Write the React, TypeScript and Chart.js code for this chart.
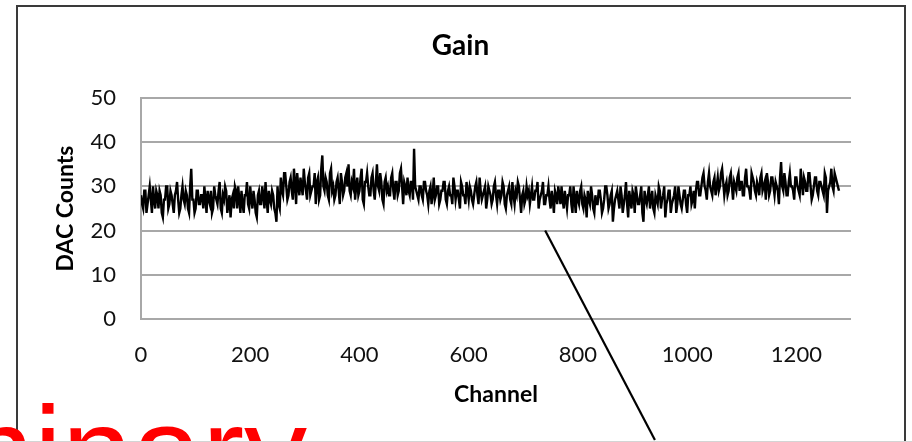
import React, { useEffect, useRef } from "react";
import { Chart, registerables } from "chart.js";

Chart.register(...registerables);

const chartTitle = "Gain";
const yAxisTitle = "DAC Counts";
const xAxisTitle = "Channel";
const watermarkText = "Preliminary";

const xTickValues = [0, 200, 400, 600, 800, 1000, 1200];
const yTickValues = [0, 10, 20, 30, 40, 50];
const CHANNEL_STEP = 2;

// readings at channels 0, 4, 8, ... 252
const gainSeg1 = [
  28, 25, 29, 26, 30, 24, 27, 29, 25, 28,
  23, 27, 30, 26, 28, 24, 29, 27, 25, 30,
  26, 28, 24, 34, 27, 25, 29, 26, 28, 30,
  24, 27, 29, 25, 28, 26, 31, 24, 27, 29,
  26, 23, 28, 30, 25, 27, 29, 24, 28, 26,
  30, 25, 27, 23, 29, 26, 28, 31, 24, 27,
  29, 25, 22, 26,
];
// readings at channels 2, 6, 10, ... 254
const gainSeg1Mid = [
  26, 29, 24, 28, 27, 30, 25, 28, 29, 24,
  27, 30, 25, 29, 26, 28, 31, 24, 28, 27,
  29, 25, 30, 27, 24, 29, 26, 28, 25, 27,
  29, 26, 24, 30, 27, 29, 25, 28, 30, 24,
  28, 27, 25, 29, 30, 24, 26, 28, 31, 25,
  27, 29, 24, 28, 26, 30, 25, 27, 29, 26,
  28, 24, 30, 25,
];
// channels 256 ... 508
const gainSeg2 = [
  32, 28, 33, 27, 31, 29, 34, 26, 30, 32,
  28, 31, 27, 33, 29, 30, 26, 32, 28, 37,
  29, 31, 27, 34, 30, 28, 32, 26, 31, 29,
  33, 35, 28, 30, 27, 32, 29, 34, 26, 31,
  30, 28, 33, 27, 35, 29, 31, 26, 32, 30,
  28, 33, 27, 31, 29, 34, 26, 30, 32, 28,
  31, 38.5, 29, 27,
];
// channels 258 ... 510
const gainSeg2Mid = [
  29, 33, 30, 28, 32, 27, 31, 33, 28, 30,
  34, 29, 32, 28, 30, 33, 31, 27, 34, 30,
  32, 28, 33, 29, 27, 31, 29, 33, 28, 32,
  30, 29, 31, 34, 30, 28, 32, 27, 31, 33,
  28, 32, 29, 31, 30, 33, 27, 31, 29, 28,
  32, 29, 31, 28, 33, 30, 31, 28, 29, 31,
  27, 30, 28, 30,
];
// channels 512 ... 1012
const gainSeg3 = [
  30, 27, 31, 28, 29, 26, 32, 28, 30, 27,
  29, 31, 26, 30, 28, 32, 27, 29, 25, 30,
  28, 31, 27, 29, 26, 30, 28, 32, 27, 29,
  25, 30, 28, 27, 31, 26, 29, 28, 30, 25,
  29, 27, 31, 26, 28, 30, 24, 29, 27, 28,
  26, 30, 27, 29, 25, 28, 31, 26, 28, 27,
  29, 24, 28, 30, 26, 27, 29, 25, 28, 26,
  30, 24, 27, 29, 26, 28, 23, 27, 30, 25,
  28, 26, 29, 24, 27, 30, 25, 28, 22, 27,
  29, 25, 28, 26, 31, 23, 27, 29, 24, 28,
  26, 30, 22, 27, 28, 25, 29, 24, 27, 30,
  25, 28, 23, 27, 29, 26, 28, 24, 30, 26,
  27, 29, 24, 28, 26, 29,
];
// channels 514 ... 1014
const gainSeg3Mid = [
  28, 31, 29, 26, 30, 28, 27, 30, 26, 29,
  31, 27, 29, 28, 26, 30, 29, 27, 31, 28,
  26, 29, 30, 27, 28, 31, 26, 29, 28, 30,
  27, 29, 26, 30, 28, 29, 27, 31, 26, 28,
  30, 26, 28, 29, 31, 27, 28, 26, 30, 29,
  28, 27, 29, 31, 27, 29, 26, 28, 30, 25,
  27, 29, 26, 28, 30, 25, 27, 28, 30, 24,
  27, 29, 26, 30, 25, 27, 29, 26, 28, 24,
  26, 29, 27, 25, 30, 28, 26, 29, 25, 28,
  27, 30, 24, 28, 26, 29, 25, 28, 30, 26,
  28, 24, 29, 26, 30, 27, 25, 28, 26, 29,
  27, 30, 26, 29, 24, 27, 30, 26, 28, 25,
  29, 26, 28, 30, 27, 25,
];
// channels 1016 ... 1276
const gainSeg4 = [
  29, 31, 28, 32, 30, 27, 33, 29, 31, 28,
  32, 30, 34, 28, 31, 29, 33, 27, 30, 32,
  29, 31, 28, 34, 30, 27, 32, 29, 31, 28,
  33, 30, 27, 31, 29, 32, 28, 30, 26, 35.5,
  29, 31, 28, 33, 30, 27, 32, 29, 34, 28,
  31, 29, 33, 27, 30, 32, 28, 31, 29, 33,
  24, 30, 34, 29, 32, 30,
];
// channels 1018 ... 1278
const gainSeg4Mid = [
  31, 28, 30, 33, 29, 31, 30, 28, 32, 30,
  29, 33, 31, 30, 28, 32, 30, 31, 29, 33,
  31, 28, 32, 30, 29, 33, 31, 28, 30, 32,
  29, 31, 33, 28, 32, 30, 31, 29, 32, 30,
  33, 28, 31, 30, 29, 32, 30, 28, 31, 32,
  29, 33, 30, 28, 32, 29, 31, 30, 28, 32,
  29, 31, 30, 33, 31, 29,
];

const gainMain = [...gainSeg1, ...gainSeg2, ...gainSeg3, ...gainSeg4];
const gainMid = [...gainSeg1Mid, ...gainSeg2Mid, ...gainSeg3Mid, ...gainSeg4Mid];
const gainValues: number[] = [];
gainMain.forEach((v, i) => {
  gainValues.push(v, gainMid[i]);
});
const channels = gainValues.map((_, i) => i * CHANNEL_STEP);

// callout line, in data units (channel, DAC counts)
const calloutStart = { x: 740, y: 20 };
const calloutEnd = { x: 941, y: -27.4 };

const FONT = 'Lato, "Open Sans", "DejaVu Sans", sans-serif';

const decorPlugin = {
  id: "decor",
  beforeDraw(chart: any) {
    const ctx = chart.ctx;
    ctx.save();
    ctx.fillStyle = "#ffffff";
    ctx.fillRect(0, 0, chart.width, chart.height);
    ctx.strokeStyle = "#3a3a3a";
    ctx.lineWidth = 2;
    ctx.beginPath();
    ctx.moveTo(17, 442);
    ctx.lineTo(17, 6);
    ctx.lineTo(905, 6);
    ctx.lineTo(905, 442);
    ctx.stroke();
    ctx.restore();
  },
  afterDraw(chart: any) {
    const ctx = chart.ctx;
    const { x, y } = chart.scales;
    ctx.save();
    ctx.strokeStyle = "#000000";
    ctx.lineWidth = 2.2;
    ctx.beginPath();
    ctx.moveTo(x.getPixelForValue(calloutStart.x), y.getPixelForValue(calloutStart.y));
    ctx.lineTo(x.getPixelForValue(calloutEnd.x), y.getPixelForValue(calloutEnd.y));
    ctx.stroke();

    ctx.font = '126px "Liberation Sans", Arial, sans-serif';
    ctx.fillStyle = "#ff0000";
    ctx.textBaseline = "alphabetic";
    ctx.textAlign = "left";
    const prefixW = ctx.measureText("Prelim").width;
    ctx.fillText(watermarkText, 34 - prefixW, 495);

    ctx.strokeStyle = "#d4d4d4";
    ctx.lineWidth = 1;
    ctx.beginPath();
    ctx.moveTo(0, 441.5);
    ctx.lineTo(chart.width, 441.5);
    ctx.stroke();
    ctx.restore();
  },
};

export default function App() {
  const canvasRef = useRef<HTMLCanvasElement | null>(null);

  useEffect(() => {
    const canvas = canvasRef.current;
    if (!canvas) return;
    const gridColor = "#a8a8a8";
    const chart = new Chart(canvas, {
      type: "line",
      data: {
        datasets: [
          {
            label: chartTitle,
            data: gainValues.map((v, i) => ({ x: channels[i], y: v })),
            borderColor: "#000000",
            borderWidth: 2.4,
            pointRadius: 0,
            tension: 0,
            fill: false,
          },
        ],
      },
      options: {
        animation: false,
        responsive: false,
        devicePixelRatio: 1,
        layout: { padding: { left: 16, right: 7, top: 0, bottom: 0 } },
        plugins: {
          legend: { display: false },
          tooltip: { enabled: false },
          title: {
            display: true,
            text: chartTitle,
            color: "#000000",
            font: { family: FONT, size: 28, weight: "bold", lineHeight: 1.2 },
            padding: { top: 29.2, bottom: 35.2 },
          },
        },
        scales: {
          x: {
            type: "linear",
            position: "bottom",
            min: 0,
            max: 1300,
            grid: { display: false, drawTicks: false },
            border: { display: false },
            afterBuildTicks: (s: any) => {
              s.ticks = xTickValues.map((v) => ({ value: v }));
            },
            afterFit: (s: any) => {
              s.height = 123;
            },
            ticks: {
              color: "#111111",
              font: { family: FONT, size: 22, lineHeight: 1.2 },
              padding: 22.8,
              maxRotation: 0,
              autoSkip: false,
              callback: (v: any) => String(v),
            },
            title: {
              display: true,
              text: xAxisTitle,
              color: "#000000",
              font: { family: FONT, size: 23, weight: "bold", lineHeight: 1.2 },
              padding: { top: 0, bottom: 33.2 },
            },
          },
          y: {
            type: "linear",
            position: "left",
            min: 0,
            max: 50,
            afterBuildTicks: (s: any) => {
              s.ticks = yTickValues.map((v) => ({ value: v }));
            },
            afterFit: (s: any) => {
              s.width = 125;
            },
            grid: { color: gridColor, lineWidth: 2, drawTicks: false },
            border: { display: true, color: gridColor, width: 2 },
            ticks: {
              color: "#111111",
              font: { family: FONT, size: 22, lineHeight: 1.2 },
              padding: 25,
              callback: (v: any) => String(v),
            },
            title: {
              display: true,
              text: yAxisTitle,
              color: "#000000",
              font: { family: FONT, size: 23, weight: "bold", lineHeight: 1.2 },
              padding: { top: 36.2, bottom: 0 },
            },
          },
          yRight: {
            type: "linear",
            position: "right",
            display: true,
            grid: { display: false, drawTicks: false },
            border: { display: false },
            ticks: { display: false },
            afterFit: (s: any) => {
              s.width = 54;
            },
          },
        },
      },
      plugins: [decorPlugin],
    } as any);
    return () => {
      chart.destroy();
    };
  }, []);

  return (
    <div style={{ position: "absolute", left: 0, top: 0, width: 912, height: 442 }}>
      <canvas
        ref={canvasRef}
        width={912}
        height={442}
        style={{ display: "block", width: 912, height: 442 }}
      />
    </div>
  );
}
